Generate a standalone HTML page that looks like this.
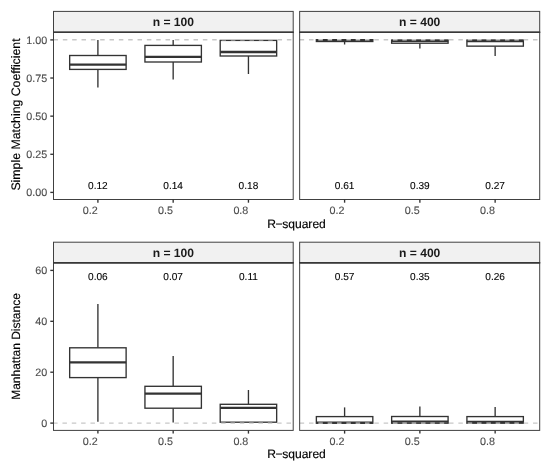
<!DOCTYPE html>
<html lang="en"><head><meta charset="utf-8"><title>Boxplots</title>
<style>html,body{margin:0;padding:0;background:#fff}svg{display:block}text{font-family:"Liberation Sans",sans-serif;text-rendering:geometricPrecision}</style></head>
<body>
<svg width="550" height="465" viewBox="0 0 550 465">
<rect width="550" height="465" fill="#ffffff"/>
<rect x="53.5" y="11.4" width="239.70" height="20.90" fill="#f1f1f1" stroke="#404040" stroke-width="1.0"/>
<text x="173.35" y="25.90" font-size="12.1" font-weight="bold" text-anchor="middle" fill="#1a1a1a">n = 100</text>
<line x1="97.90" x2="97.90" y1="39.9" y2="55.5" stroke="#333333" stroke-width="1.35"/>
<line x1="97.90" x2="97.90" y1="69.4" y2="87.6" stroke="#333333" stroke-width="1.35"/>
<rect x="69.67" y="55.5" width="56.45" height="13.90" fill="#ffffff" stroke="#333333" stroke-width="1.35"/>
<line x1="69.67" x2="126.13" y1="64.7" y2="64.7" stroke="#333333" stroke-width="2.3"/>
<text x="97.90" y="188.6" font-size="10.1" text-anchor="middle" fill="#000000" stroke="#000000" stroke-width="0.1">0.12</text>
<line x1="173.17" x2="173.17" y1="39.9" y2="45.4" stroke="#333333" stroke-width="1.35"/>
<line x1="173.17" x2="173.17" y1="62.0" y2="79.4" stroke="#333333" stroke-width="1.35"/>
<rect x="144.94" y="45.4" width="56.45" height="16.60" fill="#ffffff" stroke="#333333" stroke-width="1.35"/>
<line x1="144.94" x2="201.40" y1="56.85" y2="56.85" stroke="#333333" stroke-width="2.3"/>
<text x="173.17" y="188.6" font-size="10.1" text-anchor="middle" fill="#000000" stroke="#000000" stroke-width="0.1">0.14</text>
<line x1="248.44" x2="248.44" y1="56.0" y2="74.0" stroke="#333333" stroke-width="1.35"/>
<rect x="220.21" y="40.4" width="56.45" height="15.60" fill="#ffffff" stroke="#333333" stroke-width="1.35"/>
<line x1="220.21" x2="276.67" y1="52.0" y2="52.0" stroke="#333333" stroke-width="2.3"/>
<text x="248.44" y="188.6" font-size="10.1" text-anchor="middle" fill="#000000" stroke="#000000" stroke-width="0.1">0.18</text>
<line x1="53.5" x2="293.2" y1="39.8" y2="39.8" stroke="#c8c8c8" stroke-width="1.4" stroke-dasharray="4.5 4.835" stroke-dashoffset="0"/>
<rect x="53.5" y="32.3" width="239.70" height="167.20" fill="none" stroke="#404040" stroke-width="1.0"/>
<line x1="53.0" x2="293.7" y1="32.199999999999996" y2="32.199999999999996" stroke="#383838" stroke-width="1.5"/>
<line x1="97.90" x2="97.90" y1="199.5" y2="202.7" stroke="#333333" stroke-width="1.35"/>
<text x="97.80" y="214.30" font-size="10.75" text-anchor="end" fill="#4d4d4d" stroke="#4d4d4d" stroke-width="0.12">0.2</text>
<line x1="173.17" x2="173.17" y1="199.5" y2="202.7" stroke="#333333" stroke-width="1.35"/>
<text x="173.07" y="214.30" font-size="10.75" text-anchor="end" fill="#4d4d4d" stroke="#4d4d4d" stroke-width="0.12">0.5</text>
<line x1="248.44" x2="248.44" y1="199.5" y2="202.7" stroke="#333333" stroke-width="1.35"/>
<text x="248.34" y="214.30" font-size="10.75" text-anchor="end" fill="#4d4d4d" stroke="#4d4d4d" stroke-width="0.12">0.8</text>
<rect x="299.65" y="11.4" width="240.05" height="20.90" fill="#f1f1f1" stroke="#404040" stroke-width="1.0"/>
<text x="419.68" y="25.90" font-size="12.1" font-weight="bold" text-anchor="middle" fill="#1a1a1a">n = 400</text>
<line x1="344.60" x2="344.60" y1="41.5" y2="44.5" stroke="#333333" stroke-width="1.35"/>
<rect x="316.37" y="39.7" width="56.45" height="1.80" fill="#ffffff" stroke="#333333" stroke-width="1.35"/>
<line x1="316.37" x2="372.83" y1="40.4" y2="40.4" stroke="#333333" stroke-width="2.3"/>
<text x="344.60" y="188.6" font-size="10.1" text-anchor="middle" fill="#000000" stroke="#000000" stroke-width="0.1">0.61</text>
<line x1="419.87" x2="419.87" y1="43.2" y2="48.4" stroke="#333333" stroke-width="1.35"/>
<rect x="391.64" y="40.1" width="56.45" height="3.10" fill="#ffffff" stroke="#333333" stroke-width="1.35"/>
<line x1="391.64" x2="448.10" y1="40.95" y2="40.95" stroke="#333333" stroke-width="2.3"/>
<text x="419.87" y="188.6" font-size="10.1" text-anchor="middle" fill="#000000" stroke="#000000" stroke-width="0.1">0.39</text>
<line x1="495.14" x2="495.14" y1="46.15" y2="56.1" stroke="#333333" stroke-width="1.35"/>
<rect x="466.91" y="40.1" width="56.45" height="6.05" fill="#ffffff" stroke="#333333" stroke-width="1.35"/>
<line x1="466.91" x2="523.37" y1="41.0" y2="41.0" stroke="#333333" stroke-width="2.3"/>
<text x="495.14" y="188.6" font-size="10.1" text-anchor="middle" fill="#000000" stroke="#000000" stroke-width="0.1">0.27</text>
<line x1="299.65" x2="539.7" y1="39.8" y2="39.8" stroke="#c8c8c8" stroke-width="1.4" stroke-dasharray="4.5 4.835" stroke-dashoffset="0"/>
<rect x="299.65" y="32.3" width="240.05" height="167.20" fill="none" stroke="#404040" stroke-width="1.0"/>
<line x1="299.15" x2="540.2" y1="32.199999999999996" y2="32.199999999999996" stroke="#383838" stroke-width="1.5"/>
<line x1="344.60" x2="344.60" y1="199.5" y2="202.7" stroke="#333333" stroke-width="1.35"/>
<text x="344.50" y="214.30" font-size="10.75" text-anchor="end" fill="#4d4d4d" stroke="#4d4d4d" stroke-width="0.12">0.2</text>
<line x1="419.87" x2="419.87" y1="199.5" y2="202.7" stroke="#333333" stroke-width="1.35"/>
<text x="419.77" y="214.30" font-size="10.75" text-anchor="end" fill="#4d4d4d" stroke="#4d4d4d" stroke-width="0.12">0.5</text>
<line x1="495.14" x2="495.14" y1="199.5" y2="202.7" stroke="#333333" stroke-width="1.35"/>
<text x="495.04" y="214.30" font-size="10.75" text-anchor="end" fill="#4d4d4d" stroke="#4d4d4d" stroke-width="0.12">0.8</text>
<line x1="50.3" x2="53.5" y1="192.40" y2="192.40" stroke="#333333" stroke-width="1.35"/>
<text x="47.2" y="196.25" font-size="10.75" text-anchor="end" fill="#4d4d4d" stroke="#4d4d4d" stroke-width="0.12">0.00</text>
<line x1="50.3" x2="53.5" y1="154.28" y2="154.28" stroke="#333333" stroke-width="1.35"/>
<text x="47.2" y="158.12" font-size="10.75" text-anchor="end" fill="#4d4d4d" stroke="#4d4d4d" stroke-width="0.12">0.25</text>
<line x1="50.3" x2="53.5" y1="116.15" y2="116.15" stroke="#333333" stroke-width="1.35"/>
<text x="47.2" y="120.00" font-size="10.75" text-anchor="end" fill="#4d4d4d" stroke="#4d4d4d" stroke-width="0.12">0.50</text>
<line x1="50.3" x2="53.5" y1="78.03" y2="78.03" stroke="#333333" stroke-width="1.35"/>
<text x="47.2" y="81.88" font-size="10.75" text-anchor="end" fill="#4d4d4d" stroke="#4d4d4d" stroke-width="0.12">0.75</text>
<line x1="50.3" x2="53.5" y1="39.90" y2="39.90" stroke="#333333" stroke-width="1.35"/>
<text x="47.2" y="43.75" font-size="10.75" text-anchor="end" fill="#4d4d4d" stroke="#4d4d4d" stroke-width="0.12">1.00</text>
<text x="296.5" y="227.60" font-size="12.1" text-anchor="middle" fill="#000000" stroke="#000000" stroke-width="0.15">R<tspan dx="-0.4">−</tspan><tspan dx="-0.4">squared</tspan></text>
<rect x="53.5" y="242.2" width="239.70" height="20.65" fill="#f1f1f1" stroke="#404040" stroke-width="1.0"/>
<text x="173.35" y="256.70" font-size="12.1" font-weight="bold" text-anchor="middle" fill="#1a1a1a">n = 100</text>
<line x1="97.90" x2="97.90" y1="304.0" y2="347.8" stroke="#333333" stroke-width="1.35"/>
<line x1="97.90" x2="97.90" y1="377.6" y2="421.8" stroke="#333333" stroke-width="1.35"/>
<rect x="69.67" y="347.8" width="56.45" height="29.80" fill="#ffffff" stroke="#333333" stroke-width="1.35"/>
<line x1="69.67" x2="126.13" y1="362.3" y2="362.3" stroke="#333333" stroke-width="2.3"/>
<text x="97.90" y="279.5" font-size="10.1" text-anchor="middle" fill="#000000" stroke="#000000" stroke-width="0.1">0.06</text>
<line x1="173.17" x2="173.17" y1="356.0" y2="386.3" stroke="#333333" stroke-width="1.35"/>
<line x1="173.17" x2="173.17" y1="408.2" y2="422.6" stroke="#333333" stroke-width="1.35"/>
<rect x="144.94" y="386.3" width="56.45" height="21.90" fill="#ffffff" stroke="#333333" stroke-width="1.35"/>
<line x1="144.94" x2="201.40" y1="393.6" y2="393.6" stroke="#333333" stroke-width="2.3"/>
<text x="173.17" y="279.5" font-size="10.1" text-anchor="middle" fill="#000000" stroke="#000000" stroke-width="0.1">0.07</text>
<line x1="248.44" x2="248.44" y1="390.0" y2="404.3" stroke="#333333" stroke-width="1.35"/>
<rect x="220.21" y="404.3" width="56.45" height="17.90" fill="#ffffff" stroke="#333333" stroke-width="1.35"/>
<line x1="220.21" x2="276.67" y1="407.9" y2="407.9" stroke="#333333" stroke-width="2.3"/>
<text x="248.44" y="279.5" font-size="10.1" text-anchor="middle" fill="#000000" stroke="#000000" stroke-width="0.1">0.11</text>
<line x1="53.5" x2="293.2" y1="423.1" y2="423.1" stroke="#c8c8c8" stroke-width="1.4" stroke-dasharray="4.5 4.835" stroke-dashoffset="0.4"/>
<rect x="53.5" y="262.85" width="239.70" height="167.55" fill="none" stroke="#404040" stroke-width="1.0"/>
<line x1="53.0" x2="293.7" y1="262.75" y2="262.75" stroke="#383838" stroke-width="1.5"/>
<line x1="97.90" x2="97.90" y1="430.4" y2="433.59999999999997" stroke="#333333" stroke-width="1.35"/>
<text x="97.80" y="445.20" font-size="10.75" text-anchor="end" fill="#4d4d4d" stroke="#4d4d4d" stroke-width="0.12">0.2</text>
<line x1="173.17" x2="173.17" y1="430.4" y2="433.59999999999997" stroke="#333333" stroke-width="1.35"/>
<text x="173.07" y="445.20" font-size="10.75" text-anchor="end" fill="#4d4d4d" stroke="#4d4d4d" stroke-width="0.12">0.5</text>
<line x1="248.44" x2="248.44" y1="430.4" y2="433.59999999999997" stroke="#333333" stroke-width="1.35"/>
<text x="248.34" y="445.20" font-size="10.75" text-anchor="end" fill="#4d4d4d" stroke="#4d4d4d" stroke-width="0.12">0.8</text>
<rect x="299.65" y="242.2" width="240.05" height="20.65" fill="#f1f1f1" stroke="#404040" stroke-width="1.0"/>
<text x="419.68" y="256.70" font-size="12.1" font-weight="bold" text-anchor="middle" fill="#1a1a1a">n = 400</text>
<line x1="344.60" x2="344.60" y1="407.4" y2="416.6" stroke="#333333" stroke-width="1.35"/>
<rect x="316.37" y="416.6" width="56.45" height="6.60" fill="#ffffff" stroke="#333333" stroke-width="1.35"/>
<line x1="316.37" x2="372.83" y1="422.7" y2="422.7" stroke="#333333" stroke-width="2.3"/>
<text x="344.60" y="279.5" font-size="10.1" text-anchor="middle" fill="#000000" stroke="#000000" stroke-width="0.1">0.57</text>
<line x1="419.87" x2="419.87" y1="406.4" y2="416.5" stroke="#333333" stroke-width="1.35"/>
<rect x="391.64" y="416.5" width="56.45" height="6.70" fill="#ffffff" stroke="#333333" stroke-width="1.35"/>
<line x1="391.64" x2="448.10" y1="421.7" y2="421.7" stroke="#333333" stroke-width="2.3"/>
<text x="419.87" y="279.5" font-size="10.1" text-anchor="middle" fill="#000000" stroke="#000000" stroke-width="0.1">0.35</text>
<line x1="495.14" x2="495.14" y1="407.0" y2="416.6" stroke="#333333" stroke-width="1.35"/>
<rect x="466.91" y="416.6" width="56.45" height="6.60" fill="#ffffff" stroke="#333333" stroke-width="1.35"/>
<line x1="466.91" x2="523.37" y1="421.9" y2="421.9" stroke="#333333" stroke-width="2.3"/>
<text x="495.14" y="279.5" font-size="10.1" text-anchor="middle" fill="#000000" stroke="#000000" stroke-width="0.1">0.26</text>
<line x1="299.65" x2="539.7" y1="423.1" y2="423.1" stroke="#c8c8c8" stroke-width="1.4" stroke-dasharray="4.5 4.835" stroke-dashoffset="0"/>
<rect x="299.65" y="262.85" width="240.05" height="167.55" fill="none" stroke="#404040" stroke-width="1.0"/>
<line x1="299.15" x2="540.2" y1="262.75" y2="262.75" stroke="#383838" stroke-width="1.5"/>
<line x1="344.60" x2="344.60" y1="430.4" y2="433.59999999999997" stroke="#333333" stroke-width="1.35"/>
<text x="344.50" y="445.20" font-size="10.75" text-anchor="end" fill="#4d4d4d" stroke="#4d4d4d" stroke-width="0.12">0.2</text>
<line x1="419.87" x2="419.87" y1="430.4" y2="433.59999999999997" stroke="#333333" stroke-width="1.35"/>
<text x="419.77" y="445.20" font-size="10.75" text-anchor="end" fill="#4d4d4d" stroke="#4d4d4d" stroke-width="0.12">0.5</text>
<line x1="495.14" x2="495.14" y1="430.4" y2="433.59999999999997" stroke="#333333" stroke-width="1.35"/>
<text x="495.04" y="445.20" font-size="10.75" text-anchor="end" fill="#4d4d4d" stroke="#4d4d4d" stroke-width="0.12">0.8</text>
<line x1="50.3" x2="53.5" y1="423.10" y2="423.10" stroke="#333333" stroke-width="1.35"/>
<text x="47.2" y="426.95" font-size="10.75" text-anchor="end" fill="#4d4d4d" stroke="#4d4d4d" stroke-width="0.12">0</text>
<line x1="50.3" x2="53.5" y1="372.20" y2="372.20" stroke="#333333" stroke-width="1.35"/>
<text x="47.2" y="376.05" font-size="10.75" text-anchor="end" fill="#4d4d4d" stroke="#4d4d4d" stroke-width="0.12">20</text>
<line x1="50.3" x2="53.5" y1="321.30" y2="321.30" stroke="#333333" stroke-width="1.35"/>
<text x="47.2" y="325.15" font-size="10.75" text-anchor="end" fill="#4d4d4d" stroke="#4d4d4d" stroke-width="0.12">40</text>
<line x1="50.3" x2="53.5" y1="270.40" y2="270.40" stroke="#333333" stroke-width="1.35"/>
<text x="47.2" y="274.25" font-size="10.75" text-anchor="end" fill="#4d4d4d" stroke="#4d4d4d" stroke-width="0.12">60</text>
<text x="296.5" y="458.20" font-size="12.1" text-anchor="middle" fill="#000000" stroke="#000000" stroke-width="0.15">R<tspan dx="-0.4">−</tspan><tspan dx="-0.4">squared</tspan></text>
<text transform="translate(20.3,114.5) rotate(-90)" font-size="12.3" text-anchor="middle" fill="#000000" stroke="#000000" stroke-width="0.15">Simple Matching Coefficient</text>
<text transform="translate(20.3,346.5) rotate(-90)" font-size="12.0" text-anchor="middle" fill="#000000" stroke="#000000" stroke-width="0.15">Manhattan Distance</text>
</svg>
</body></html>
